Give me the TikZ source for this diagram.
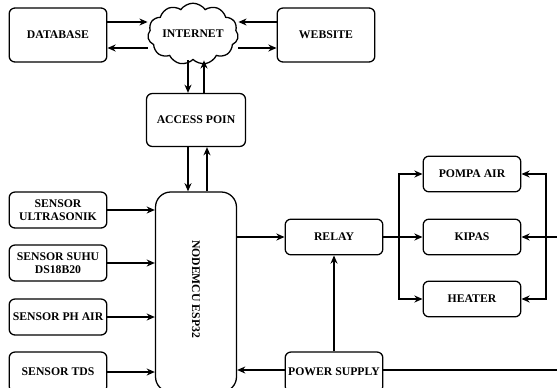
\documentclass[tikz,border=0pt]{standalone}
\usepackage{fontspec}
\setmainfont{Liberation Serif}
\usetikzlibrary{arrows.meta,shapes.symbols}

\tikzset{
  box/.style={draw, line width=1.1pt, rounded corners=5pt, minimum width=2.93cm,
    align=center, inner sep=1pt, font=\fontsize{10}{11}\selectfont\bfseries},
  arr/.style={-{Stealth[length=7pt,width=6pt]}, line width=1.1pt},
  ln/.style={line width=1.1pt},
}

\begin{document}
\begin{tikzpicture}[x=0.03cm,y=-0.03cm]
\useasboundingbox (0,0) rectangle (557,387);

% Draw top row
\node[box, minimum height=1.62cm] (db) at (58,35) {DATABASE};
\node[box, minimum height=1.62cm] (web) at (326,35) {WEBSITE};
\node[cloud, draw, line width=1.1pt, cloud puffs=11, cloud puff arc=110, aspect=1.7,
  inner sep=0pt, minimum width=2.7cm, minimum height=1.7cm,
  font=\fontsize{10}{11}\selectfont\bfseries] (inet) at (193,34) {INTERNET};
\node[box, minimum width=2.97cm, minimum height=1.59cm] (ap) at (196,120) {ACCESS POIN};

% Draw controller and sensors
\node[box, rounded corners=13pt, minimum width=2.43cm, minimum height=6.0cm] (mcu) at (196,292) {};
\node[font=\fontsize{10}{11}\selectfont\bfseries, rotate=-90] at (196,289) {NODEMCU ESP32};
\node[box, minimum height=1.08cm] (s1) at (58,210) {SENSOR\\ULTRASONIK};
\node[box, minimum height=1.08cm] (s2) at (58,263) {SENSOR SUHU\\DS18B20};
\node[box, minimum height=1.08cm] (s3) at (58,317) {SENSOR PH AIR};
\node[box, minimum height=1.2cm] (s4) at (58,372) {SENSOR TDS};

% Draw outputs
\node[box, minimum height=1.07cm] (relay) at (334,237) {RELAY};
\node[box, minimum height=1.07cm] (pompa) at (472,174) {POMPA AIR};
\node[box, minimum height=1.07cm] (kipas) at (472,237) {KIPAS};
\node[box, minimum height=1.07cm] (heater) at (472,299) {HEATER};
\node[box, minimum height=1.2cm, inner sep=0pt] (ps) at (334,372) {POWER SUPPLY};

\coordinate (split) at (399,237);
\coordinate (bus) at (546,237);
\coordinate (far) at (562,370);

% Internet links
\draw[arr] (db.east |- 0,22) -- (inet.west |- 0,22);
\draw[arr] (inet.west |- 0,48) -- (db.east |- 0,48);
\draw[arr] (web.west |- 0,22) -- (inet.east |- 0,22);
\draw[arr] (inet.east |- 0,48) -- (web.west |- 0,48);
\draw[arr] (inet.south -| 188,0) -- (ap.north -| 188,0);
\draw[arr] (ap.north -| 204,0) -- (inet.south -| 204,0);
\draw[arr] (ap.south -| 188,0) -- (mcu.north -| 188,0);
\draw[arr] (mcu.north -| 207,0) -- (ap.south -| 207,0);

% Sensor inputs
\foreach \s in {s1,s2,s3,s4}
  \draw[arr] (\s.east) -- (mcu.west |- \s.east);

% Relay and loads
\draw[arr] (mcu.east |- relay.west) -- (relay.west);
\draw[ln] (relay.east) -- (split);
\draw[arr] (split) |- (pompa.west);
\draw[arr] (split) -- (kipas.west);
\draw[arr] (split) |- (heater.west);

% Power lines
\draw[arr] (ps.north) -- (relay.south);
\draw[arr] (ps.west |- 0,370) -- (mcu.east |- 0,370);
\draw[ln] (ps.east |- 0,370) -- (far);
\draw[arr] (far) |- (kipas.east);
\draw[arr] (bus) |- (pompa.east);
\draw[arr] (bus) |- (heater.east);
\end{tikzpicture}
\end{document}
